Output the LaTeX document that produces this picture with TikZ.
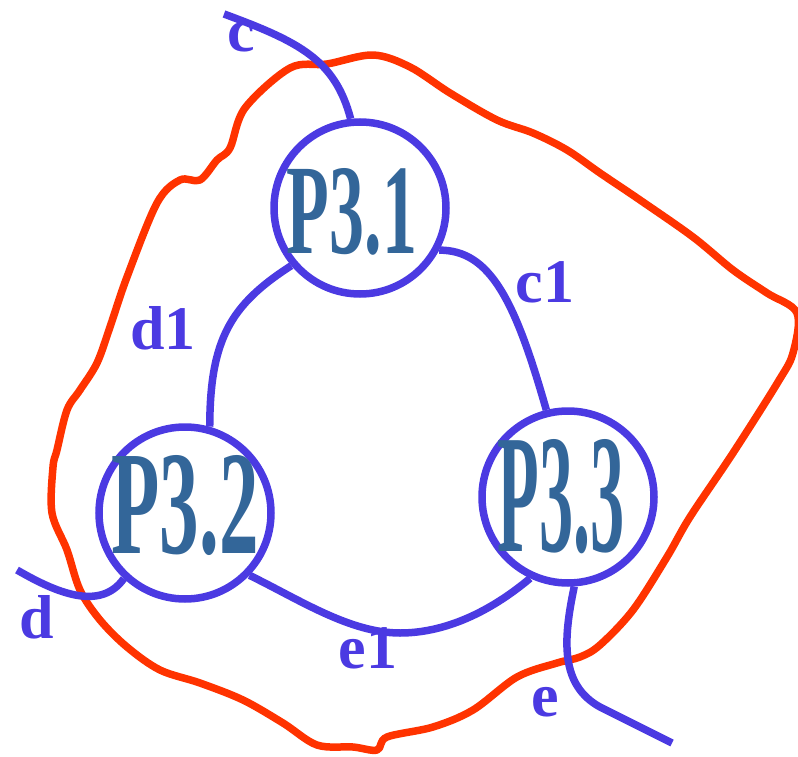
\documentclass[tikz,border=0pt]{standalone}
\usepackage{fontspec}
\setmainfont{Liberation Serif}
\definecolor{wireblue}{RGB}{75,58,226}
\definecolor{bordred}{RGB}{255,51,0}
\definecolor{procteal}{RGB}{51,102,153}
\tikzset{
	proc/.style={circle, draw=wireblue, line width=7.5pt, minimum size=172pt, inner sep=0pt}
}
\tikzset{
	proctext/.style={text=procteal, inner sep=0pt, font=\bfseries}
}
\tikzset{
	wire/.style={draw=wireblue, line width=7.5pt}
}
\tikzset{
	wirelabel/.style={text=wireblue, inner sep=0pt, font=\fontsize{62}{62}\selectfont\bfseries}
}
\newcommand{\ptag}[3]{\resizebox{#1}{#2}{#3}}

\begin{document}
\begin{tikzpicture}[x=1pt, y=-1pt]
      \useasboundingbox (0,0) rectangle (798,757);
      % boundary of P3
      \draw[bordred, line width=7.5pt, line join=round] plot[smooth cycle, tension=0.55] coordinates {
        (230,148) (245,108) (290,68) (327,64) (373,55) (410,67) (450,93) (497,120)
        (533,133) (567,150) (600,173) (640,200) (693,237) (733,270) (767,293) (797,313)
        (793,353) (778,382) (733,453) (690,517) (667,557) (633,610) (600,645) (580,657)
        (557,663) (517,677) (473,710) (433,727) (387,737) (377,750) (353,747) (317,745)
        (283,723) (243,700) (200,683) (160,670) (127,647) (100,620) (80,590) (67,550)
        (52,513) (53,467) (57,450) (67,410) (80,390) (97,363) (110,327) (127,277)
        (157,203) (180,180) (200,180) (217,160)};
      % processes
      \node[proc] (p31) at (360,208) {};
      \node[proc] (p32) at (185,513) {};
      \node[proc] (p33) at (568,497) {};
      \node[proctext, xshift=-8pt, yshift=-4pt] (p31txt) at (p31) {\ptag{130pt}{85pt}{P3.1}};
      \node[proctext, yshift=7pt] (p32txt) at (p32) {\ptag{147pt}{98pt}{P3.2}};
      \node[proctext, xshift=-7pt] (p33txt) at (p33) {\ptag{127pt}{112pt}{P3.3}};
      % free ends
      \coordinate (cend) at (224,14);
      \coordinate (dend) at (17,570);
      \coordinate (eend) at (672,743);
      % flows
      \draw[wire] (cend) .. controls (300,42) and (335,60) .. (p31.96);
      \draw[wire] (p31.220) .. controls (230,305) and (210,340) .. (p32.74);
      \draw[wire] (p31.332) .. controls (490,250) and (515,300) .. (p33.104);
      \draw[wire] (dend) .. controls (55,592) and (100,612) .. (p32.227);
      \draw[wire] (p32.316) .. controls (300,600) and (350,633) .. (400,633)
                  .. controls (445,633) and (490,612) .. (p33.245);
      \draw[wire] (p33.274) .. controls (563,640) and (560,685) .. (600,707) -- (eend);
      % flow names
      \node[wirelabel] (clab) at (241,37) {c};
      \node[wirelabel] (d1lab) at (163,328) {d1};
      \node[wirelabel] (c1lab) at (545,282) {c1};
      \node[wirelabel] (dlab) at (37,617) {d};
      \node[wirelabel] (e1lab) at (368,648) {e1};
      \node[wirelabel] (elab) at (545,702) {e};
\end{tikzpicture}
\end{document}
